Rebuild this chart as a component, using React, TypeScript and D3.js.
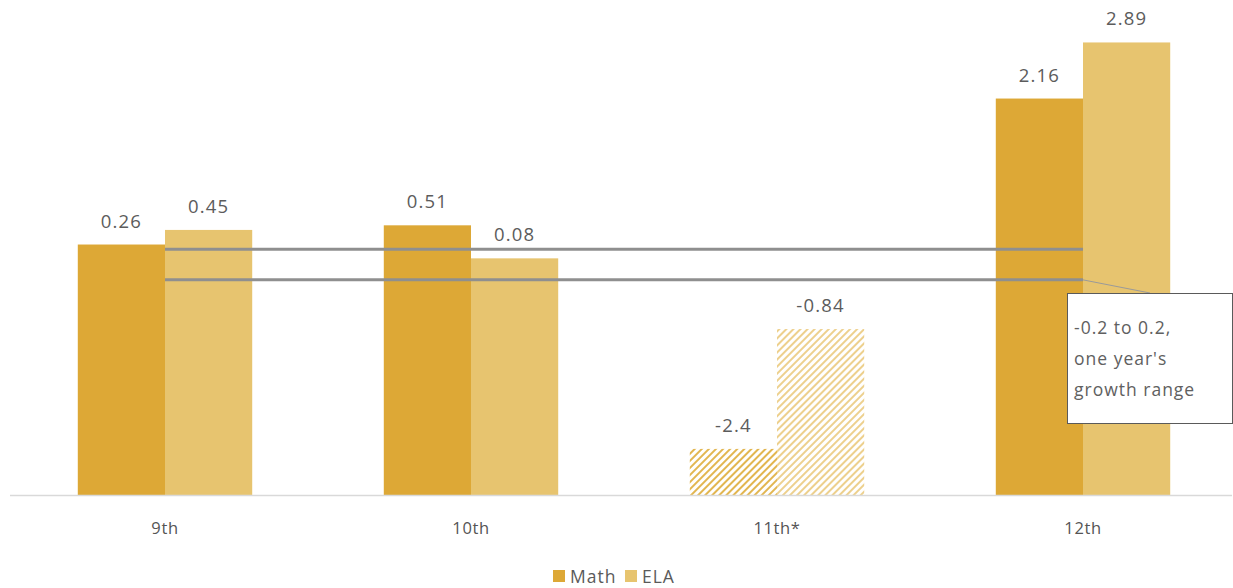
import React from "react";
import * as d3 from "d3";

const grades = ["9th", "10th", "11th*", "12th"];
const series = ["Math", "ELA"];
const mathValues = [0.26, 0.51, -2.4, 2.16];
const elaValues = [0.45, 0.08, -0.84, 2.89];
const hatched = [false, false, true, false];
const rangeLines = [0.2, -0.2];
const calloutLines = ["-0.2 to 0.2,", "one year's", "growth range"];

const W = 1233;
const H = 588;
const colors: Record<string, string> = { Math: "#DDA836", ELA: "#E7C46F" };
const hatchColors: Record<string, string> = { Math: "#E2B650", ELA: "#EDD08D" };
const FONT = "'Open Sans', Lato, sans-serif";

export default function App() {
  const x0 = d3.scaleBand<string>().domain(grades).range([12, 1236]).paddingInner(0.43).paddingOuter(0.215);
  const x1 = d3.scaleBand<string>().domain(series).range([0, x0.bandwidth()]).padding(0);
  const y = d3.scaleLinear().domain([-3, 3]).range([495, 34]);

  const rows = grades.map((g, i) => ({
    grade: g,
    hatched: hatched[i],
    vals: [
      { s: "Math", v: mathValues[i] },
      { s: "ELA", v: elaValues[i] },
    ],
  }));

  const lineX1 = (x0(grades[0]) ?? 0) + x1("ELA")!;
  const lineX2 = (x0(grades[3]) ?? 0) + x1("ELA")!;
  const lowY = y(-0.2);

  return (
    <div style={{ position: "absolute", left: 0, top: 0 }}>
      <svg width={W} height={H} style={{ display: "block", background: "#fff" }} fontFamily={FONT}>
        <defs>
          {series.map((s) => (
            <pattern key={s} id={`hatch-${s}`} patternUnits="userSpaceOnUse" width={5} height={5} patternTransform="rotate(45)">
              <rect x={0} y={0} width={2} height={5} fill={hatchColors[s]} />
            </pattern>
          ))}
        </defs>
        {rows.map((r) => (
          <g key={r.grade} transform={`translate(${x0(r.grade)},0)`}>
            {r.vals.map((d) => {
              const top = y(d.v);
              return (
                <g key={d.s}>
                  <rect
                    x={x1(d.s)}
                    y={top}
                    width={x1.bandwidth()}
                    height={y(-3) - top}
                    fill={r.hatched ? `url(#hatch-${d.s})` : colors[d.s]}
                  />
                  <text
                    x={(x1(d.s) ?? 0) + x1.bandwidth() / 2}
                    y={top - 17}
                    textAnchor="middle"
                    fontSize={18.5}
                    letterSpacing={1.2}
                    fill="#5c5c5c"
                  >
                    {d.v}
                  </text>
                </g>
              );
            })}
            <text x={x0.bandwidth() / 2} y={534} textAnchor="middle" fontSize={16.5} letterSpacing={0.6} fill="#555">
              {r.grade}
            </text>
          </g>
        ))}
        <line x1={10} x2={1232} y1={495.5} y2={495.5} stroke="#d9d9d9" strokeWidth={1.5} />
        {rangeLines.map((v) => (
          <line key={v} x1={lineX1} x2={lineX2} y1={y(v)} y2={y(v)} stroke="#8f8f8f" strokeWidth={3} />
        ))}
        <line x1={lineX2} y1={lowY} x2={1150} y2={293} stroke="#9a9a9a" strokeWidth={1} />
        <rect x={1067.5} y={293.5} width={165} height={130} fill="#fff" stroke="#5a5a5a" strokeWidth={1} />
        {calloutLines.map((t, i) => (
          <text key={t} x={1074} y={334 + i * 31} fontSize={17.5} letterSpacing={1} fill="#606060">
            {t}
          </text>
        ))}
        <g transform="translate(553,570)">
          {series.map((s, i) => (
            <g key={s} transform={`translate(${i * 72},0)`}>
              <rect x={0} y={0} width={12} height={12} fill={colors[s]} />
              <text x={17} y={12.5} fontSize={17.5} letterSpacing={1} fill="#5a5a5a">
                {s}
              </text>
            </g>
          ))}
        </g>
      </svg>
    </div>
  );
}
